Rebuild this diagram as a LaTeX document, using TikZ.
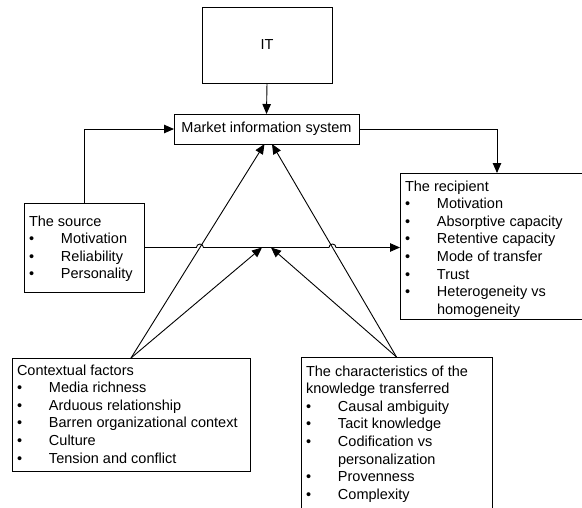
\documentclass[tikz,border=0pt]{standalone}
\usepackage{fontspec}
\setmainfont{Liberation Sans}
\usetikzlibrary{arrows.meta,calc,intersections}
% list helpers: bullet column and continuation indent
\newcommand\bitem[1]{\makebox[32pt][l]{\textbullet}#1}
\newcommand\bcont[1]{\hspace*{32pt}#1}
\newcommand\tstrut{\rule{0pt}{12pt}}
\begin{document}
\begin{tikzpicture}[x=1pt,y=-1pt,
  box/.style={draw, line width=0.8pt, inner sep=0pt, outer sep=0pt, anchor=north west,
              font=\fontsize{14.5}{17.6}\selectfont},
  txt/.style={anchor=north west, align=left, inner sep=0pt, outer sep=0pt,
              font=\fontsize{14.5}{17.6}\selectfont},
  conn/.style={draw, line width=0.9pt},
  arr/.style={conn, -{Triangle[length=10pt,width=8.5pt]}}]

\path[use as bounding box] (0,0) rectangle (582,507);
\clip (0,0) rectangle (582,507);

% boxes
\node[box, minimum width=130pt, minimum height=76pt] (it) at (202,7) {IT};
\node[box, minimum width=185pt, minimum height=30pt] (mis) at (174,114) {Market information system};
\node[box, minimum width=120pt, minimum height=89pt] (src) at (24,203) {};
\node[box, minimum width=190pt, minimum height=146pt] (rec) at (400,173) {};
\node[box, minimum width=238pt, minimum height=113pt] (ctx) at (12,358) {};
\node[box, minimum width=191pt, minimum height=170pt] (chr) at (301,357) {};

% box contents
\node[txt] (srct) at ($(src.north west)+(5,11)$) {\tstrut The source\\
  \bitem{Motivation}\\ \bitem{Reliability}\\ \bitem{Personality}};
\node[txt] (rect) at ($(rec.north west)+(5,6)$) {\tstrut The recipient\\
  \bitem{Motivation}\\ \bitem{Absorptive capacity}\\ \bitem{Retentive capacity}\\
  \bitem{Mode of transfer}\\ \bitem{Trust}\\ \bitem{Heterogeneity vs}\\ \bcont{homogeneity}};
\node[txt] (ctxt) at ($(ctx.north west)+(5,5)$) {\tstrut Contextual factors\\
  \bitem{Media richness}\\ \bitem{Arduous relationship}\\ \bitem{Barren organizational context}\\
  \bitem{Culture}\\ \bitem{Tension and conflict}};
\node[txt] (chrt) at ($(chr.north west)+(5,7)$) {\tstrut The characteristics of the\\
  knowledge transferred\\
  \bitem{Causal ambiguity}\\ \bitem{Tacit knowledge}\\ \bitem{Codification vs}\\
  \bcont{personalization}\\ \bitem{Provenness}\\ \bitem{Complexity}};

% connector end points
\coordinate (ml) at ($(mis.south)+(-2,0)$);
\coordinate (mr) at ($(mis.south)+(5.5,0)$);
\coordinate (jl) at (262,247.5);
\coordinate (jr) at (271,247.5);
\coordinate (rtop) at (497,173);

% top connectors
\draw[arr] (it.south) -- (mis.north);
\draw[arr] (src.north) |- (mis.west);
\draw[arr] (mis.east) -| (rtop);

% diagonal influences
\draw[arr, name path=cl] (ctx.north) -- (ml);
\draw[arr] (ctx.north) -- (jl);
\draw[arr, name path=cr] (chr.north) -- (mr);
\draw[arr] (chr.north) -- (jr);

% source to recipient, hopping over the crossing lines
\path[name path=hline] (src.east) -- (rec.west |- src.east);
\path[name intersections={of=cl and hline, by=h1}];
\path[name intersections={of=cr and hline, by=h2}];
\draw[arr] (src.east) -- ($(h1)+(-3.5,0)$) arc[start angle=180, end angle=0, radius=3.5pt]
  -- ($(h2)+(-3.5,0)$) arc[start angle=180, end angle=0, radius=3.5pt]
  -- (rec.west |- src.east);
\end{tikzpicture}
\end{document}
